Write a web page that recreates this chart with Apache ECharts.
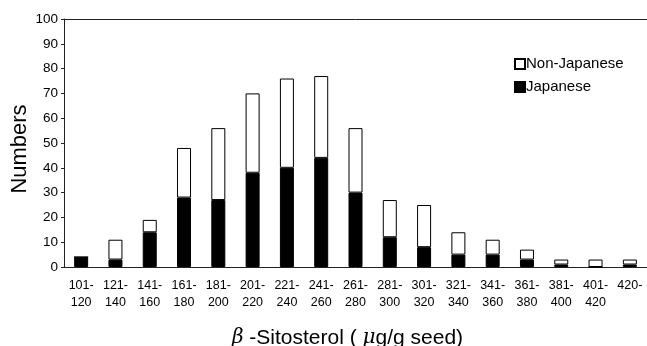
<!DOCTYPE html>
<html>
<head>
<meta charset="utf-8">
<script src="https://cdn.jsdelivr.net/npm/echarts@6/dist/echarts.min.js"></script>
<style>
  html, body { margin: 0; padding: 0; background: #fff; }
  #chart { width: 647px; height: 346px; }
</style>
</head>
<body>
<div id="chart"></div>
<script>
// sitosterol ranges (ug/g seed)
var categories = ['101-\n120', '121-\n140', '141-\n160', '161-\n180', '181-\n200', '201-\n220',
  '221-\n240', '241-\n260', '261-\n280', '281-\n300', '301-\n320', '321-\n340', '341-\n360',
  '361-\n380', '381-\n400', '401-\n420', '420-'];
var japanese = [4, 3, 14, 28, 27, 38, 40, 44, 30, 12, 8, 5, 5, 3, 1, 0, 1];
var nonJapanese = [0, 8, 5, 20, 29, 32, 36, 33, 26, 15, 17, 9, 6, 4, 2, 3, 2];
var yTicks = [0, 10, 20, 30, 40, 50, 60, 70, 80, 90, 100];

var font = 'Liberation Sans, Arial, sans-serif';

var chart = echarts.init(document.getElementById('chart'));
chart.setOption({
  animation: false,
  grid: { left: 64, right: 0, top: 19, bottom: 79, outerBoundsMode: 'none', containLabel: false },
  legend: {
    data: ['Non-Japanese', 'Japanese'],
    orient: 'vertical',
    left: 509,
    top: 51,
    icon: 'rect',
    itemWidth: 10,
    itemHeight: 10,
    itemGap: 7,
    textStyle: { fontFamily: font, fontSize: 15, color: '#000', padding: [0, 0, 0, -4], lineHeight: 16 }
  },
  xAxis: [{
    type: 'category',
    data: categories,
    axisLine: { lineStyle: { color: '#222', width: 1 } },
    axisTick: { inside: true, length: 4, lineStyle: { color: '#222' } },
    axisLabel: { fontFamily: font, fontSize: 12.5, color: '#000', margin: 10, lineHeight: 17, interval: 0 },
    name: '{g|β} -Sitosterol ( {g|μ}g/g seed)',
    nameLocation: 'middle',
    nameGap: 60,
    nameTextStyle: {
      fontFamily: font, fontSize: 21, color: '#000', lineHeight: 22, padding: [0, 16, 0, 0],
      rich: { g: { fontFamily: 'DejaVu Serif, serif', fontStyle: 'italic', fontSize: 20, lineHeight: 22, color: '#000' } }
    }
  }, {
    type: 'category',
    position: 'top',
    data: categories,
    axisLine: { lineStyle: { color: '#222', width: 1 } },
    axisTick: { show: false },
    axisLabel: { show: false }
  }],
  yAxis: {
    type: 'value',
    min: yTicks[0],
    max: yTicks[yTicks.length - 1],
    interval: 10,
    splitLine: { show: false },
    axisLine: { show: true, lineStyle: { color: '#222', width: 1 } },
    axisTick: { show: true, length: 3, lineStyle: { color: '#222' } },
    axisLabel: { fontFamily: font, fontSize: 13.5, color: '#000', margin: 6 },
    name: 'Numbers',
    nameLocation: 'middle',
    nameGap: 33,
    nameMoveOverlap: false,
    nameRotate: 90,
    nameTextStyle: { fontFamily: font, fontSize: 22, color: '#000', padding: [0, 12, 0, 0] }
  },
  series: [{
    name: 'Japanese',
    type: 'bar',
    stack: 'n',
    data: japanese,
    barWidth: 14,
    itemStyle: { color: '#000', borderColor: '#000', borderWidth: 1 }
  }, {
    name: 'Non-Japanese',
    type: 'bar',
    stack: 'n',
    data: nonJapanese,
    barWidth: 14,
    itemStyle: { color: '#fff', borderColor: '#000', borderWidth: 1 }
  }]
});
</script>
</body>
</html>
